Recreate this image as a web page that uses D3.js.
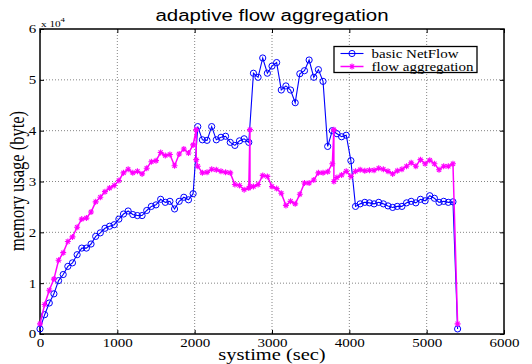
<!DOCTYPE html>
<html><head><meta charset="utf-8">
<script src="https://cdn.jsdelivr.net/npm/d3@7"></script>
<style>body{margin:0;background:#fff}svg{display:block}</style>
</head><body><svg id="c" width="532" height="364"></svg>
<script>
const titleText = "adaptive flow aggregation";
const xLabelText = "systime (sec)";
const yLabelText = "memory usage (byte)";
const seriesNames = ["basic NetFlow", "flow aggregation"];
const xTicks = [0, 1000, 2000, 3000, 4000, 5000, 6000];
const xTickLabels = ["0", "1000", "2000", "3000", "4000", "5000", "6000"];
const yTicks = [0, 10000, 20000, 30000, 40000, 50000, 60000];
const yTickLabels = ["0", "1", "2", "3", "4", "5", "6"];

const blueTime = [0,60,120,180,240,300,360,420,480,540,
600,660,720,780,840,900,960,1020,1080,1140,
1200,1260,1320,1380,1440,1500,1560,1620,1680,1740,
1800,1860,1920,1980,2040,2100,2160,2220,2280,2340,
2400,2460,2520,2580,2640,2700,2760,2820,2880,2940,
3000,3060,3120,3180,3240,3300,3360,3420,3480,3540,
3600,3660,3720,3780,3840,3900,3960,4020,4080,4140,
4200,4260,4320,4380,4440,4500,4560,4620,4680,4740,
4800,4860,4920,4980,5040,5100,5160,5220,5280,5340,
5400];
const blueValues = [1000,3800,6100,7900,10500,11700,13300,14000,15600,16900,
16900,17700,19200,19900,20800,21200,21500,22600,23600,24200,
23500,23300,23300,24300,25100,25400,26500,25900,26100,24600,
26100,26900,26400,27600,40800,38200,38100,40800,38200,38700,
38900,37700,37100,38000,38400,37700,51300,50500,54300,51300,
52700,53400,48000,48800,48000,45500,51200,51800,53900,50500,
52000,49700,36900,40000,39400,38800,39100,34100,25100,25600,
25900,25800,25600,25900,25600,25200,24900,25100,25100,25800,
26100,25800,26500,26200,27200,26700,25900,26100,25900,26000,
1000];

const pinkTime = [0,60,120,180,240,300,360,420,480,540,
600,660,720,780,840,900,960,1020,1080,1140,
1200,1260,1320,1380,1440,1500,1560,1620,1680,1740,
1800,1860,1920,1980,2020,2020,
2040,2100,2160,2220,2280,2340,2400,2460,2520,2580,2640,2700,
2715,2715,
2760,2820,2880,2940,3000,3060,3120,3180,3240,3300,3360,3420,3480,3540,3600,3660,3720,3780,
3800,3800,
3840,3900,3960,4020,4080,4140,4200,4260,4320,4380,4440,4500,4560,4620,4680,4740,
4800,4860,4920,4980,5040,5100,5160,5220,5280,5340,5400];
const pinkValues = [2000,5800,8600,10800,14500,16000,18200,19100,21000,22600,
22800,24000,26000,26900,28000,28700,29200,30200,31700,32400,
31700,32000,31500,32600,33900,34100,35700,35100,35300,33100,
35400,36400,35600,37200,40200,34300,
33000,31700,31800,32400,32300,32000,31800,31700,29400,29200,28400,28700,
40200,29000,
29000,29400,31200,31000,29000,28600,27700,25300,26100,25600,27500,29700,29700,30300,31700,31700,31900,33500,
40200,30000,
30800,31300,32000,31000,32000,32300,32100,32200,32200,32600,32400,32000,31500,32100,32400,33000,
33700,33000,34300,33500,34200,33500,32300,33000,33000,33500,2000];

const SX = 1.25;
const L = 40, R = 504, T = 29, B = 334;
const svg = d3.select("#c");
const x = d3.scaleLinear().domain([0, 6000]).range([L, R]);
const y = d3.scaleLinear().domain([0, 60000]).range([B, T]);
const serif = "'Liberation Serif','Times New Roman',serif";
const sans = "'Liberation Sans',Arial,sans-serif";

// grid
const grid = svg.append("g").attr("stroke", "#666").attr("stroke-width", 0.8).attr("stroke-dasharray", "1,2");
grid.selectAll(".gx").data(xTicks.slice(1, -1)).join("line")
  .attr("x1", d => x(d)).attr("x2", d => x(d)).attr("y1", T).attr("y2", B);
grid.selectAll(".gy").data(yTicks.slice(1, -1)).join("line")
  .attr("y1", d => y(d)).attr("y2", d => y(d)).attr("x1", L).attr("x2", R);

function styleAxis(g, labels) {
  g.select(".domain").remove();
  g.selectAll(".tick line").attr("stroke", "#000").attr("stroke-width", 1);
  g.selectAll(".tick text").attr("font-family", serif).attr("font-size", 12).attr("fill", "#000");
  if (!labels) g.selectAll(".tick text").remove();
}
const gb = svg.append("g").attr("transform", `translate(0,${B})`)
  .call(d3.axisBottom(x).tickValues(xTicks).tickFormat((d, i) => xTickLabels[i]).tickSizeInner(-4).tickSizeOuter(0).tickPadding(4));
styleAxis(gb, true);
gb.selectAll(".tick text").attr("transform", `scale(${SX},1)`);
const gt = svg.append("g").attr("transform", `translate(0,${T})`)
  .call(d3.axisTop(x).tickValues(xTicks).tickSizeInner(-4).tickSizeOuter(0));
styleAxis(gt, false);
const gl = svg.append("g").attr("transform", `translate(${L},0)`)
  .call(d3.axisLeft(y).tickValues(yTicks).tickFormat((d, i) => yTickLabels[i]).tickSizeInner(-4).tickSizeOuter(0).tickPadding(3));
styleAxis(gl, true);
gl.selectAll(".tick text").attr("transform", `scale(${SX},1)`);
const gr = svg.append("g").attr("transform", `translate(${R},0)`)
  .call(d3.axisRight(y).tickValues(yTicks).tickSizeInner(-4).tickSizeOuter(0));
styleAxis(gr, false);

// box
svg.append("rect").attr("x", L).attr("y", T).attr("width", R - L).attr("height", B - T)
  .attr("fill", "none").attr("stroke", "#000").attr("stroke-width", 1.5);

// multiplier
svg.append("text").attr("transform", `translate(41,27) scale(${SX},1)`)
  .attr("font-family", serif).attr("font-size", 9).text("x 10");
svg.append("text").attr("transform", `translate(60.5,21.5) scale(${SX},1)`)
  .attr("font-family", serif).attr("font-size", 7).text("4");

// series
const blueIdx = d3.range(blueTime.length);
const pinkIdx = d3.range(pinkTime.length);
const blue = "#0000ff", pink = "#ff00ff";
svg.append("path").datum(blueIdx)
  .attr("d", d3.line().x(i => x(blueTime[i])).y(i => y(blueValues[i])))
  .attr("fill", "none").attr("stroke", blue).attr("stroke-width", 1.1);
svg.append("g").selectAll("circle").data(blueIdx).join("circle")
  .attr("cx", i => x(blueTime[i])).attr("cy", i => y(blueValues[i])).attr("r", 3.1)
  .attr("fill", "none").attr("stroke", blue).attr("stroke-width", 1);

const star = r => `M${-r},0H${r}M0,${-r}V${r}M${-0.7*r},${-0.7*r}L${0.7*r},${0.7*r}M${-0.7*r},${0.7*r}L${0.7*r},${-0.7*r}`;
svg.append("path").datum(pinkIdx)
  .attr("d", d3.line().x(i => x(pinkTime[i])).y(i => y(pinkValues[i])))
  .attr("fill", "none").attr("stroke", pink).attr("stroke-width", 1.5);
svg.append("g").selectAll("path").data(pinkIdx).join("path")
  .attr("transform", i => `translate(${x(pinkTime[i])},${y(pinkValues[i])})`)
  .attr("d", star(3)).attr("stroke", pink).attr("stroke-width", 1.1).attr("fill", "none");

// legend
const lg = svg.append("g");
lg.append("rect").attr("x", 334).attr("y", 46.5).attr("width", 143).attr("height", 26)
  .attr("fill", "#fff").attr("stroke", "#000").attr("stroke-width", 1.3);
const legY = [53.5, 66.5];
lg.append("line").attr("x1", 340.5).attr("x2", 363.5).attr("y1", legY[0]).attr("y2", legY[0]).attr("stroke", blue).attr("stroke-width", 1.1);
lg.append("circle").attr("cx", 352).attr("cy", legY[0]).attr("r", 3.1).attr("fill", "none").attr("stroke", blue);
lg.append("line").attr("x1", 340.5).attr("x2", 363.5).attr("y1", legY[1]).attr("y2", legY[1]).attr("stroke", pink).attr("stroke-width", 1.5);
lg.append("path").attr("transform", `translate(352,${legY[1]})`).attr("d", star(3)).attr("stroke", pink).attr("stroke-width", 1.1);
seriesNames.forEach((n, k) => {
  lg.append("text").attr("transform", `translate(371.5,${legY[k] + 4}) scale(${SX},1)`)
    .attr("font-family", serif).attr("font-size", 12).text(n);
});

// title and labels
svg.append("text").attr("transform", `translate(272,20.5) scale(1.28,1)`)
  .attr("text-anchor", "middle").attr("font-family", sans).attr("font-size", 16).text(titleText);
svg.append("text").attr("transform", `translate(272,360) scale(1.28,1)`)
  .attr("text-anchor", "middle").attr("font-family", serif).attr("font-size", 16).text(xLabelText);
svg.append("text").attr("transform", `translate(24,181) scale(1.28,1) rotate(-90)`)
  .attr("text-anchor", "middle").attr("font-family", serif).attr("font-size", 16.5).text(yLabelText);
</script></body></html>
